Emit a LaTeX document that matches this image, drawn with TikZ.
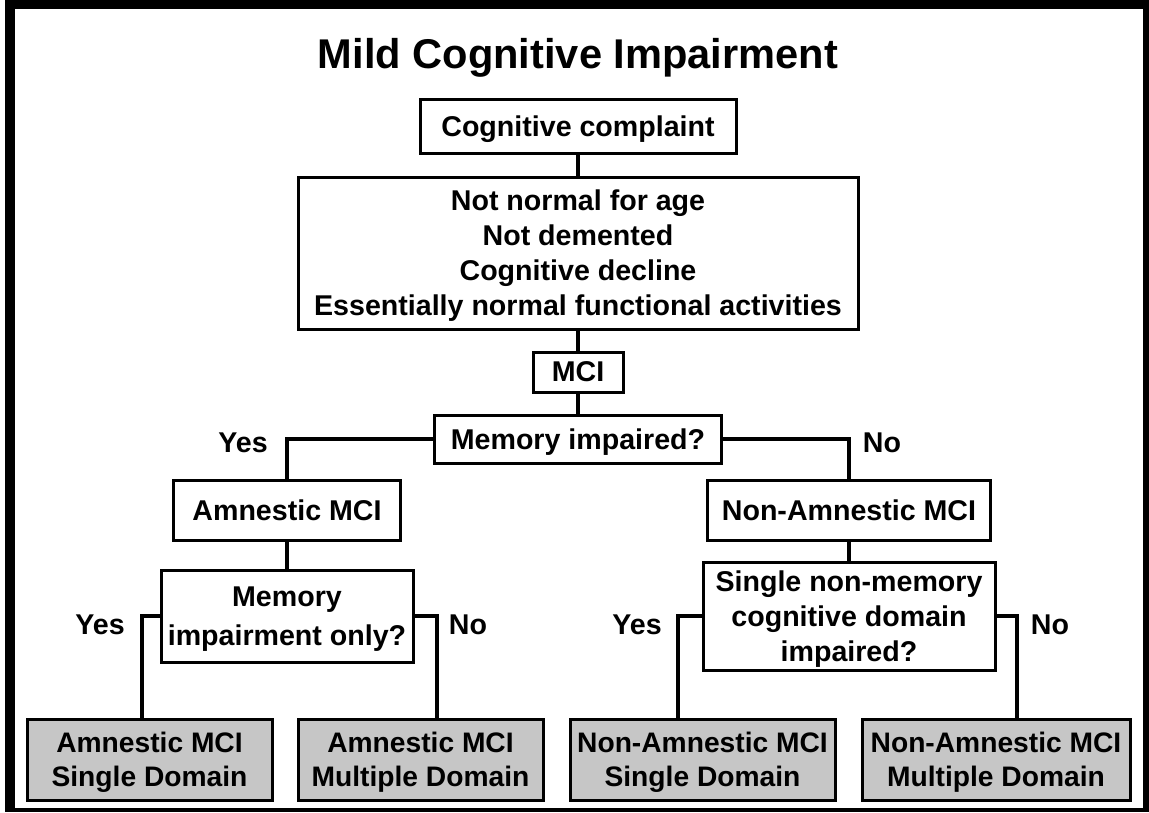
\documentclass[tikz,border=0pt]{standalone}
\usepackage{fontspec}
\setmainfont{Liberation Sans}
\definecolor{boxgray}{RGB}{198,198,198}
\tikzset{
  box/.style={draw=black, line width=3pt, fill=white, inner sep=0pt, align=center,
    text depth=0pt, font=\fontsize{28.6}{35}\selectfont\bfseries},
  endbox/.style={box, fill=boxgray, font=\fontsize{28.2}{34}\selectfont\bfseries},
  lbl/.style={inner sep=0pt, text depth=0pt, font=\fontsize{28.6}{35}\selectfont\bfseries},
  conn/.style={line width=3.5pt, line cap=rect}
}
\begin{document}
\begin{tikzpicture}[x=1pt,y=-1pt]
\useasboundingbox (0,0) rectangle (1149,812);
\fill[white] (0,0) rectangle (1149,812);
\fill[black] (5,0) rectangle (1149,812);
\fill[white] (15,9) rectangle (1143,808);

\node[inner sep=0pt, text depth=0pt, font=\fontsize{41.6}{48}\selectfont\bfseries] (title) at (578,53) {Mild Cognitive Impairment};

\node[box, minimum width=316pt, minimum height=54pt] (cc) at (578,126) {Cognitive complaint};
\node[box, minimum width=560pt, minimum height=152pt] (big) at (578,253)
  {Not normal for age\\Not demented\\Cognitive decline\\Essentially normal functional activities};
\node[box, minimum width=90pt, minimum height=40pt] (mci) at (578,372) {MCI};
\node[box, minimum width=287pt, minimum height=48pt] (mem) at (578,439) {Memory impaired?};
\node[box, minimum width=227pt, minimum height=60pt] (amn) at (287,510) {Amnestic MCI};
\node[box, minimum width=283pt, minimum height=60pt] (namn) at (849,510) {Non-Amnestic MCI};
\node[box, minimum width=252pt, minimum height=92pt, font=\fontsize{28.6}{39}\selectfont\bfseries] (mio) at (287,616) {Memory\\impairment only?};
\node[box, minimum width=292pt, minimum height=108pt] (snm) at (849,616) {Single non-memory\\cognitive domain\\impaired?};

\node[endbox, minimum width=245pt, minimum height=81pt] (b1) at (149.5,759.5) {Amnestic MCI\\Single Domain};
\node[endbox, minimum width=245pt, minimum height=81pt] (b2) at (420.5,759.5) {Amnestic MCI\\Multiple Domain};
\node[endbox, minimum width=265pt, minimum height=81pt] (b3) at (702.5,759.5) {Non-Amnestic MCI\\Single Domain};
\node[endbox, minimum width=268pt, minimum height=81pt] (b4) at (996,759.5) {Non-Amnestic MCI\\Multiple Domain};

\node[lbl] (y1) at (243,443) {Yes};
\node[lbl] (n1) at (882,443) {No};
\node[lbl] (y2) at (100,625) {Yes};
\node[lbl] (n2) at (468,625) {No};
\node[lbl] (y3) at (637,625) {Yes};
\node[lbl] (n3) at (1050,625) {No};

\draw[conn] (cc.south) -- (big.north);
\draw[conn] (big.south) -- (mci.north);
\draw[conn] (mci.south) -- (mem.north);
\draw[conn] (mem.west) -| (amn.north);
\draw[conn] (mem.east) -| (namn.north);
\draw[conn] (amn.south) -- (mio.north);
\draw[conn] (namn.south) -- (snm.north);
\draw[conn] (mio.west) -| ([xshift=-7.5pt]b1.north);
\draw[conn] (mio.east) -| ([xshift=16.5pt]b2.north);
\draw[conn] (snm.west) -| ([xshift=-24.5pt]b3.north);
\draw[conn] (snm.east) -| ([xshift=21pt]b4.north);
\end{tikzpicture}
\end{document}
